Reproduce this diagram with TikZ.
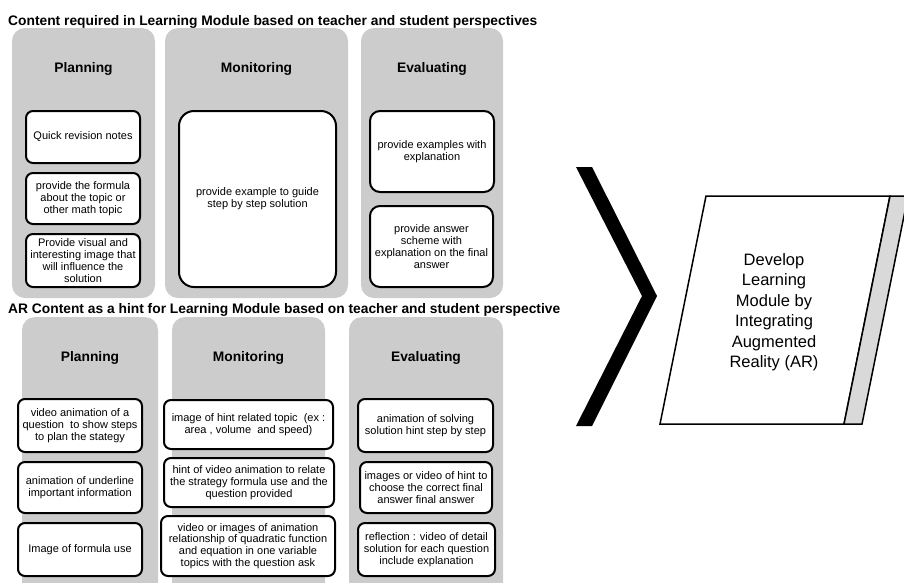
\documentclass[tikz,border=0pt]{standalone}
\usepackage{fontspec}
\setmainfont{Liberation Sans}
\definecolor{panelgray}{RGB}{204,204,204}
\definecolor{stripgray}{RGB}{217,217,217}

\begin{document}
\begin{tikzpicture}[x=1pt,y=-1pt,
    panel/.style={fill=panelgray,rounded corners=13pt},
    card/.style={draw=black,line width=2pt,fill=white,rounded corners=7pt,
      align=center,inner sep=1pt,font=\fontsize{11}{11.8}\selectfont},
    head/.style={font=\fontsize{13.8}{16}\selectfont\bfseries},
    caption/.style={font=\fontsize{13.8}{16}\selectfont\bfseries,
      anchor=base west,inner sep=0pt}]
        \useasboundingbox (0,0) rectangle (904,582);
        \clip (0,0) rectangle (904,582);

        % content required
        \begin{scope}
        \node[caption] (capA) at (8,25) {Content required in Learning Module based on teacher and student perspectives};

        \fill[panel] (12,28) rectangle (155,298);
        \fill[panel] (165,28) rectangle (348,298);
        \fill[panel] (361,28) rectangle (503,298);

        \node[head] (planA) at (83.5,69) {Planning};
        \node[head] (monA) at (256.5,69) {Monitoring};
        \node[head] (evalA) at (432,69) {Evaluating};

        \node[card,minimum width=114pt,minimum height=52pt] (planA1) at (83,137) {Quick revision notes};
        \node[card,minimum width=114pt,minimum height=51pt] (planA2) at (83,198.5) {provide the formula\\about the topic or\\other math topic};
        \node[card,minimum width=114pt,minimum height=53pt] (planA3) at (83,260.5) {Provide visual and\\interesting image that\\will influence the\\solution};

        \node[card,rounded corners=15pt,minimum width=157pt,minimum height=176pt] (monA1) at (257.5,199) {provide example to guide\\step by step solution};

        \node[card,rounded corners=10pt,minimum width=124pt,minimum height=81pt] (evalA1) at (432,151.5) {provide examples with\\explanation};
        \node[card,rounded corners=10pt,minimum width=123pt,minimum height=81pt] (evalA2) at (431.5,246.5) {provide answer\\scheme with\\explanation on the final\\answer};
        \end{scope}

        % AR content
        \begin{scope}
        \node[caption] (capB) at (8,313) {AR Content as a hint for Learning Module based on teacher and student perspective};

        \fill[panel] (22,317) rectangle (158,600);
        \fill[panel] (172,317) rectangle (325,600);
        \fill[panel] (349,317) rectangle (503,600);

        \node[head] (planB) at (90,358) {Planning};
        \node[head] (monB) at (248.5,358) {Monitoring};
        \node[head] (evalB) at (426,358) {Evaluating};

        \node[card,minimum width=124pt,minimum height=53pt] (planB1) at (80,425.5) {video animation of a\\question\ \ to show steps\\to plan the stategy};
        \node[card,minimum width=124pt,minimum height=51pt] (planB2) at (80,487.5) {animation of underline\\important information};
        \node[card,minimum width=124pt,minimum height=53pt] (planB3) at (80,549.5) {Image of formula use};

        \node[card,minimum width=169pt,minimum height=49pt] (monB1) at (248.5,424.5) {image of hint related topic\ \ (ex :\\area , volume\ \ and speed)};
        \node[card,minimum width=170pt,minimum height=49pt] (monB2) at (249,482.5) {hint of video animation to relate\\the strategy formula use and the\\question provided};
        \node[card,minimum width=174pt,minimum height=60pt] (monB3) at (248,546) {video or images of animation\\relationship of quadratic function\\and equation in one variable\\topics with the question ask};

        \node[card,minimum width=135pt,minimum height=53pt] (evalB1) at (425.5,425.5) {animation of solving\\solution hint step by step};
        \node[card,minimum width=132pt,minimum height=51pt] (evalB2) at (426,487.5) {images or video of hint to\\choose the correct final\\answer final answer};
        \node[card,minimum width=137pt,minimum height=53pt] (evalB3) at (426.5,549.5) {reflection : video of detail\\solution for each question\\include explanation};
        \end{scope}

        % chevron and module
        \fill (576,167) -- (592,167) -- (657,296) -- (592,426) -- (576,426) -- (642,296) -- cycle;

        \draw[line width=1.5pt,fill=white] (706,196) -- (890,196) -- (844,424) -- (660,424) -- cycle;
        \draw[line width=1.5pt,fill=stripgray] (890,196) -- (908,196) -- (862,424) -- (844,424) -- cycle;

        \node[align=center,font=\fontsize{16.5}{20.5}\selectfont] (devel) at (774,312) {Develop\\Learning\\Module by\\Integrating\\Augmented\\Reality (AR)};
    \end{tikzpicture}
\end{document}
